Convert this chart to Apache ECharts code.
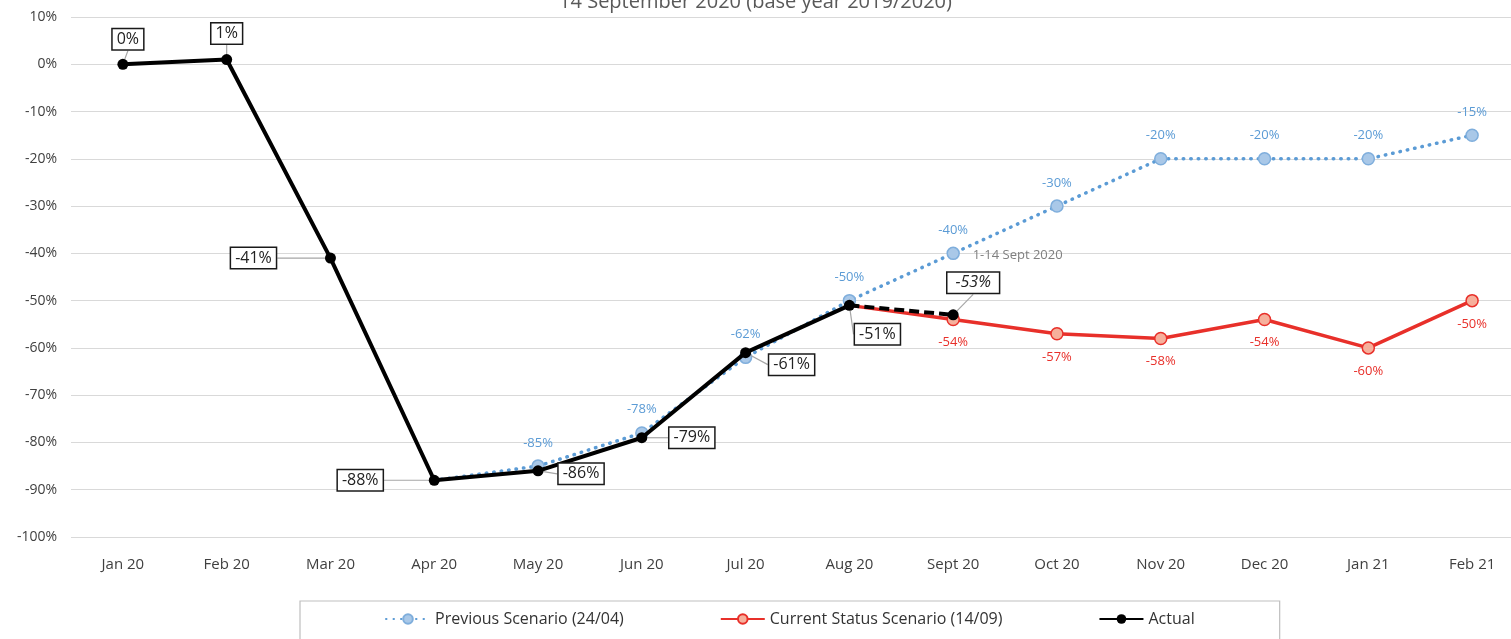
<!DOCTYPE html>
<html>
<head>
<meta charset="utf-8">
<script src="https://cdn.jsdelivr.net/npm/echarts@6/dist/echarts.min.js"></script>
<style>
html,body{margin:0;padding:0;background:#fff;}
#chart{width:1511px;height:639px;}
</style>
</head>
<body>
<div id="chart"></div>
<script>
const titleText = '14 September 2020 (base year 2019/2020)';
const categories = ['Jan 20','Feb 20','Mar 20','Apr 20','May 20','Jun 20','Jul 20','Aug 20','Sept 20','Oct 20','Nov 20','Dec 20','Jan 21','Feb 21'];
const previousScenario = [null, null, null, -88, -85, -78, -62, -50, -40, -30, -20, -20, -20, -15];
const currentScenario = [null, null, null, null, null, null, null, -51, -54, -57, -58, -54, -60, -50];
const actual = [0, 1, -41, -88, -86, -79, -61, -51, null, null, null, null, null, null];
const actualPartial = [null, null, null, null, null, null, null, -51, -53, null, null, null, null, null];
const seriesNames = ['Previous Scenario (24/04)', 'Current Status Scenario (14/09)', 'Actual'];
const sepNote = '1-14 Sept 2020';

const FONT = '"Open Sans", "Noto Sans", sans-serif';
// label offsets (styling) for boxed Actual callouts: [dx, dy] from point
const actualOffsets = [[5,-25],[0,-26],[-77,0],[-74,0],[43,3],[50,0],[46,12],[28,29]];
const partialOffset = [20,-32];

const chart = echarts.init(document.getElementById('chart'));

const boxLabel = {
  show: true,
  formatter: p => Math.round(p.value) + '%',
  backgroundColor: '#fff',
  borderColor: '#1a1a1a',
  borderWidth: 1.5,
  padding: [3, 4, 1, 4],
  color: '#222',
  fontSize: 16,
  fontFamily: FONT
};

function layoutFrom(offsets) {
  return function (params) {
    const o = offsets[params.dataIndex] || [0, 0];
    const r = params.rect;
    return {
      x: r.x + r.width / 2 + o[0],
      y: r.y + r.height / 2 + o[1],
      align: 'center',
      verticalAlign: 'middle'
    };
  };
}

const option = {
  animation: false,
  backgroundColor: '#fff',
  title: {
    text: titleText,
    left: 'center',
    top: -13,
    textStyle: {fontSize: 20, fontWeight: 'normal', color: '#595959', fontFamily: FONT}
  },
  grid: {left: 71, width: 1453, top: 17, bottom: 102, containLabel: false, outerBoundsMode: 'none'},
  legend: {
    data: seriesNames,
    left: 300,
    top: 601,
    itemGap: 96,
    itemWidth: 44,
    itemHeight: 12,
    padding: [10, 85, 14, 85],
    borderColor: '#BFBFBF',
    borderWidth: 1.2,
    textStyle: {fontSize: 16, color: '#333', fontFamily: FONT}
  },
  xAxis: {
    type: 'category',
    data: categories,
    boundaryGap: true,
    axisLine: {show: false},
    axisTick: {show: false},
    axisLabel: {margin: 20, fontSize: 15, color: '#404040', fontFamily: FONT}
  },
  yAxis: {
    type: 'value',
    min: -100,
    max: 10,
    interval: 10,
    axisLine: {show: false},
    axisTick: {show: false},
    axisLabel: {formatter: '{value}%', margin: 14, fontSize: 14, color: '#404040', fontFamily: FONT},
    splitLine: {lineStyle: {color: '#D9D9D9', width: 1.2}}
  },
  series: [
    {
      name: seriesNames[0],
      type: 'line',
      data: previousScenario.map((v, i) => (i === 3 ? {value: v, symbol: 'none', label: {show: false}} : v)),
      symbol: 'circle',
      symbolSize: 12,
      z: 2,
      lineStyle: {color: '#5B9BD5', width: 3.5, type: [0.5, 7], cap: 'round'},
      itemStyle: {color: '#A9C8E8', borderColor: '#7FAEDC', borderWidth: 1.5},
      label: {show: true, position: 'top', distance: 10, formatter: '{c}%', color: '#5B9BD5', fontSize: 13, fontFamily: FONT},
      markPoint: {
        symbol: 'circle',
        symbolSize: 1,
        itemStyle: {color: 'transparent'},
        data: [{coord: [categories[8], previousScenario[8]], value: sepNote}],
        label: {show: true, position: 'right', offset: [14, 2], formatter: sepNote, color: '#7F7F7F', fontSize: 13, fontFamily: FONT}
      }
    },
    {
      name: seriesNames[1],
      type: 'line',
      data: currentScenario.map((v, i) => (i === 7 ? {value: v, symbol: 'none', label: {show: false}} : v)),
      symbol: 'circle',
      symbolSize: 12,
      z: 3,
      lineStyle: {color: '#E8302A', width: 3.5},
      itemStyle: {color: '#F6B09C', borderColor: '#E8302A', borderWidth: 1.5},
      label: {show: true, position: 'bottom', distance: 10, formatter: '{c}%', color: '#E8302A', fontSize: 13, fontFamily: FONT}
    },
    {
      name: seriesNames[2],
      type: 'line',
      data: actual,
      symbol: 'circle',
      symbolSize: 11,
      z: 5,
      lineStyle: {color: '#000', width: 4},
      itemStyle: {color: '#000'},
      label: boxLabel,
      labelLine: {show: true, lineStyle: {color: '#A6A6A6', width: 1.2}},
      labelLayout: layoutFrom(actualOffsets)
    },
    {
      name: 'Actual (1-14 Sept)',
      type: 'line',
      data: actualPartial.map((v, i) => (i === 7 ? {value: v, symbol: 'none', label: {show: false}} : v)),
      symbol: 'circle',
      symbolSize: 11,
      z: 4,
      lineStyle: {color: '#000', width: 4, type: [10, 5]},
      itemStyle: {color: '#000'},
      label: Object.assign({}, boxLabel, {fontStyle: 'italic', padding: [3, 8, 1, 8]}),
      labelLine: {show: true, lineStyle: {color: '#A6A6A6', width: 1.2}},
      labelLayout: function (params) {
        const r = params.rect;
        return {x: r.x + r.width / 2 + partialOffset[0], y: r.y + r.height / 2 + partialOffset[1], align: 'center', verticalAlign: 'middle'};
      }
    }
  ]
};
chart.setOption(option);
</script>
</body>
</html>
